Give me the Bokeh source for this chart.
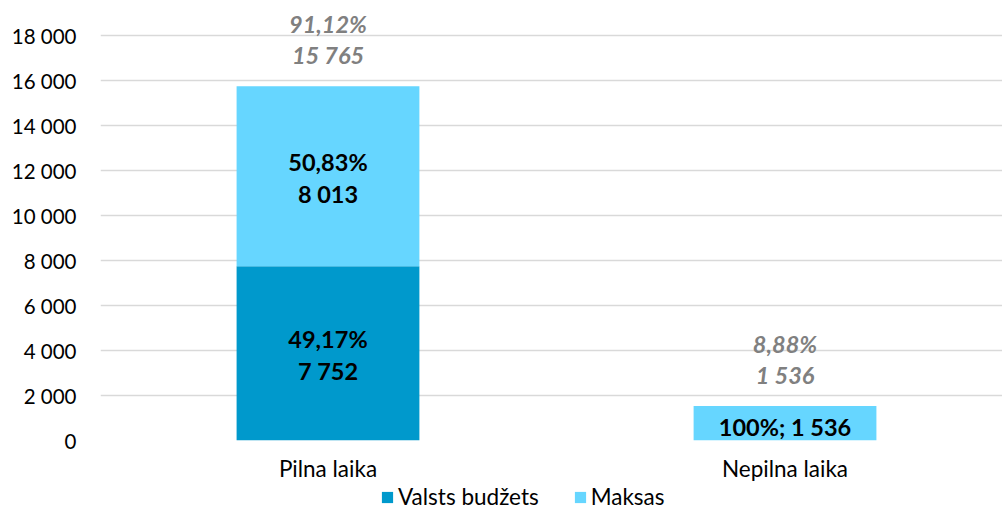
from bokeh.plotting import figure
from bokeh.layouts import column
from bokeh.models import FixedTicker, Range1d, Legend, LegendItem, ColumnDataSource
from bokeh.core.properties import value
from bokeh.embed import file_html
from bokeh.resources import INLINE

categories = ["Pilna laika", "Nepilna laika"]
series_names = ["Valsts budžets", "Maksas"]
valsts = [7752, 0]
maksas = [8013, 1536]
colors = ["#0099CC", "#66D6FF"]
y_ticks = [0, 2000, 4000, 6000, 8000, 10000, 12000, 14000, 16000, 18000]

def fmt_num(v):
    return f"{v:,}".replace(",", " ")

def fmt_pct(p):
    s = f"{p*100:.2f}".replace(".", ",")
    if s.endswith(",00"):
        s = s[:-3]
    return s + "%"

FONT = "Lato"
xs = list(range(len(categories)))
totals = [a + b for a, b in zip(valsts, maksas)]
grand = sum(totals)

p = figure(width=1002, height=486, output_backend="svg", toolbar_location=None,
           x_range=Range1d(-0.4978, 1.4759), y_range=Range1d(0, 19578),
           min_border_left=100, min_border_right=0, min_border_top=0, min_border_bottom=46)
p.outline_line_color = None
p.background_fill_color = "white"

src = ColumnDataSource(dict(x=xs, valsts=valsts, maksas=maksas))
r = p.vbar_stack(["valsts", "maksas"], x="x", width=0.4, source=src, color=colors, line_color=None)

# y axis
p.yaxis.ticker = FixedTicker(ticks=y_ticks)
p.yaxis.major_label_overrides = {t: fmt_num(t) for t in y_ticks}
p.yaxis.axis_line_color = None
p.yaxis.major_tick_line_color = None
p.yaxis.minor_tick_line_color = None
p.yaxis.major_label_text_font = FONT
p.yaxis.major_label_text_font_size = "20.5px"
p.yaxis.major_label_text_color = "#000000"
p.yaxis.major_label_standoff = 18
p.ygrid.ticker = FixedTicker(ticks=y_ticks)
p.ygrid.grid_line_color = "#D9D9D9"
p.ygrid.grid_line_width = 1.5
p.xgrid.grid_line_color = None

# x axis
p.xaxis.ticker = FixedTicker(ticks=xs)
p.xaxis.major_label_overrides = {i: c for i, c in enumerate(categories)}
p.xaxis.axis_line_color = None
p.xaxis.major_tick_line_color = None
p.xaxis.minor_tick_line_color = None
p.xaxis.major_label_text_font = FONT
p.xaxis.major_label_text_font_size = "22.5px"
p.xaxis.major_label_text_color = "#000000"
p.xaxis.major_label_standoff = 8

# in-bar labels
lab_x, lab_y, lab_t, lab_off = [], [], [], []
single_x, single_y, single_t = [], [], []
for i in xs:
    segs = [(0, valsts[i]), (valsts[i], maksas[i])]
    nonzero = [s for s in segs if s[1] > 0]
    for base, v in nonzero:
        pct = fmt_pct(v / totals[i])
        if len(nonzero) == 1:
            single_x.append(i); single_y.append(base + v / 2); single_t.append(f"{pct}; {fmt_num(v)}")
        else:
            lab_x += [i, i]; lab_y += [base + v / 2] * 2
            lab_t += [pct, fmt_num(v)]; lab_off += [-14, 18]
p.text(x=lab_x, y=lab_y, text=lab_t, y_offset=lab_off, text_align="center", text_baseline="middle",
       text_font=value(FONT), text_font_style="bold", text_font_size="23.5px", text_color="#000000")
p.text(x=single_x, y=single_y, text=single_t, y_offset=4, text_align="center", text_baseline="middle",
       text_font=value(FONT), text_font_style="bold", text_font_size="23.5px", text_color="#000000")

# total labels
tx, ty, tt, toff = [], [], [], []
for i in xs:
    tx += [i, i]; ty += [totals[i]] * 2
    tt += [fmt_pct(totals[i] / grand), fmt_num(totals[i])]
    toff += [-62, -31]
p.text(x=tx, y=ty, text=tt, y_offset=toff, text_align="center", text_baseline="middle",
       text_font=value(FONT), text_font_style="bold italic", text_font_size="23.5px", text_color="#808080")

# legend strip (same data source, bars kept outside this strip's visible ranges)
p2 = figure(width=1002, height=24, output_backend="svg", toolbar_location=None,
            x_range=Range1d(10, 11), y_range=Range1d(100000, 100001),
            min_border_left=0, min_border_right=0, min_border_top=0, min_border_bottom=0)
p2.axis.visible = False
p2.grid.visible = False
p2.outline_line_color = None
r2 = p2.vbar_stack(["valsts", "maksas"], x="x", width=0.4, source=src, color=colors, line_color=None)
legend = Legend(items=[LegendItem(label=n, renderers=[g]) for n, g in zip(series_names, r2)],
                orientation="horizontal", location=(280, 0))
legend.label_text_font = FONT
legend.label_text_font_size = "22.5px"
legend.label_text_color = "#000000"
legend.glyph_width = 14
legend.glyph_height = 14
legend.label_standoff = 4
legend.spacing = 34
legend.padding = 0
legend.margin = 0
legend.border_line_color = None
legend.background_fill_alpha = 0
p2.add_layout(legend)

layout = column(p, p2, spacing=0)
open("out.html", "w").write(file_html(layout, INLINE))
